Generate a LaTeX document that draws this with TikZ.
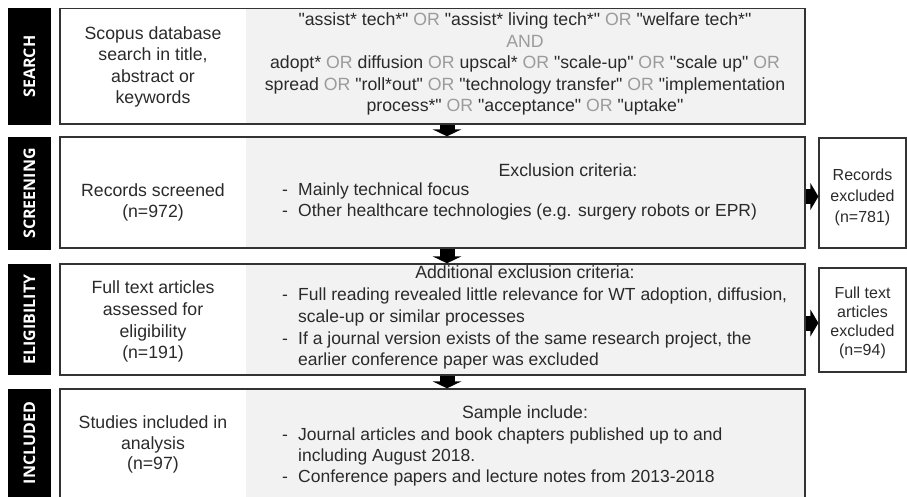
\documentclass[tikz,border=0pt]{standalone}
\usepackage{fontspec}
\setmainfont{Liberation Sans}[Ligatures=TeXOff]
\newfontfamily\barfont{Open Sans}
\definecolor{panel}{HTML}{F2F2F2}
\definecolor{ink}{HTML}{2A2A2A}
\definecolor{opgray}{HTML}{9B9B9B}
\definecolor{frame}{HTML}{333333}
% search operators are printed in light grey
\newcommand\OR{\textcolor{opgray}{OR}}
\newcommand\tstrut{\rule{0pt}{13.5pt}}
\newcommand\itemdash{\makebox[16pt][l]{-}}
\newcommand\contd{\hspace*{16pt}}
\begin{document}
\begin{tikzpicture}[x=1pt,y=-1pt,
  stagebar/.style={fill=black, text=white, inner sep=0, rotate=90,
    minimum height=43pt, font=\barfont\bfseries\fontsize{16}{18}\selectfont},
  stagebox/.style={draw=frame, line width=1.4pt, minimum width=745pt, inner sep=0},
  outbox/.style={draw=frame, line width=1.2pt, minimum width=87pt, inner sep=0},
  txt/.style={inner sep=0, text=ink, anchor=north, align=center,
    font=\fontsize{17.7}{#1}\selectfont},
  smalltxt/.style={inner sep=0, text=ink, anchor=north, align=center,
    font=\fontsize{16}{#1}\selectfont},
  listtxt/.style={inner sep=0, text=ink, anchor=north west, align=left,
    font=\fontsize{17.5}{#1}\selectfont},
  downshaft/.style={draw=black, line width=15pt, shorten >=6.5pt},
  sideshaft/.style={draw=black, line width=15pt, shorten >=7.5pt},
]
\useasboundingbox (0,0) rectangle (907,496);
\clip (0,0) rectangle (907,496);

% stage labels
\node[stagebar, minimum width=117pt] (barS) at (29.5,66.5) {SEARCH};
\node[stagebar, minimum width=113pt] (barC) at (29.5,193.5) {SCREENING};
\node[stagebar, minimum width=111pt] (barE) at (29.5,319.5) {ELIGIBILITY};
\node[stagebar, minimum width=108pt] (barI) at (29.5,443) {INCLUDED};

% grey right halves of the stage boxes
\fill[panel] (246,8.5) rectangle (805,124);
\fill[panel] (246,137) rectangle (805,248);
\fill[panel] (246,264) rectangle (805,375);
\fill[panel] (246,389) rectangle (805,501);

% stage boxes
\node[stagebox, minimum height=115.5pt] (searchbox) at (432.5,66.25) {};
\node[stagebox, minimum height=111pt] (screenbox) at (432.5,192.5) {};
\node[stagebox, minimum height=111pt] (eligbox) at (432.5,319.5) {};
\node[stagebox, minimum height=112pt] (inclbox) at (432.5,445) {};

% exclusion boxes
\node[outbox, minimum height=110pt] (recout) at (862.5,193) {};
\node[outbox, minimum height=104pt] (ftout) at (862.5,320) {};

% search
\node[txt=21.5] (searchL) at (153,25.75)
  {\tstrut Scopus database\\search in title,\\abstract or\\keywords};
\node[txt=21.5] (searchR) at (525,12)
  {\tstrut"assist* tech*" \OR{} "assist* living tech*" \OR{} "welfare tech*"\\
   \textcolor{opgray}{AND}\\
   adopt* \OR{} diffusion \OR{} upscal* \OR{} "scale-up" \OR{} "scale up" \OR\\
   spread \OR{} "roll*out" \OR{} "technology transfer" \OR{} "implementation\\
   process*" \OR{} "acceptance" \OR{} "uptake"};

% screening
\node[txt=21] (screenL) at (153,183) {\tstrut Records screened\\(n=972)};
\node[txt=21] (screenH) at (568,163) {\tstrut Exclusion criteria:};
\node[listtxt=20.5] (screenR) at (282,182)
  {\tstrut\itemdash Mainly technical focus\\
   \itemdash Other healthcare technologies (e.g. surgery robots or EPR)};
\node[smalltxt=21] (recT) at (862.5,167.2) {\tstrut Records\\excluded\\(n=781)};

% eligibility
\node[txt=21.7] (eligL) at (153,280)
  {\tstrut Full text articles\\assessed for\\eligibility\\(n=191)};
\node[txt=21] (eligH) at (525,265) {\tstrut Additional exclusion criteria:};
\node[listtxt=21.7] (eligR) at (282,287)
  {\tstrut\itemdash Full reading revealed little relevance for WT adoption, diffusion,\\
   \contd scale-up or similar processes\\
   \itemdash If a journal version exists of the same research project, the\\
   \contd earlier conference paper was excluded};
\node[smalltxt=19] (ftT) at (862.5,285.2) {\tstrut Full text\\articles\\excluded\\(n=94)};

% included
\node[txt=20.5] (inclL) at (153,415) {\tstrut Studies included in\\analysis\\(n=97)};
\node[txt=21] (inclH) at (525,405) {\tstrut Sample include:};
\node[listtxt=21] (inclR) at (282,427)
  {\tstrut\itemdash Journal articles and book chapters published up to and\\
   \contd including August 2018.\\
   \itemdash Conference papers and lecture notes from 2013-2018};

% downward flow arrows
\coordinate (d1a) at (447,0 |- searchbox.south);
\coordinate (d1b) at (447,0 |- screenbox.north);
\coordinate (d2a) at (447,0 |- screenbox.south);
\coordinate (d2b) at (447,0 |- eligbox.north);
\coordinate (d3a) at (447,0 |- eligbox.south);
\coordinate (d3b) at (447,0 |- inclbox.north);
\foreach \s/\e in {d1a/d1b, d2a/d2b, d3a/d3b}{
  \draw[downshaft] (\s) -- (\e);
  \fill[black] (\e) -- ++(14.5,-7) -- ++(-29,0) -- cycle;
}

% arrows to the exclusion boxes
\coordinate (r1a) at (screenbox.east |- 0,196.5);
\coordinate (r1b) at (recout.west |- 0,196.5);
\coordinate (r2a) at (eligbox.east |- 0,323);
\coordinate (r2b) at (ftout.west |- 0,323);
\foreach \s/\e in {r1a/r1b, r2a/r2b}{
  \draw[sideshaft] (\s) -- (\e);
  \fill[black] (\e) -- ++(-8,-13.5) -- ++(0,27) -- cycle;
}
\end{tikzpicture}
\end{document}
